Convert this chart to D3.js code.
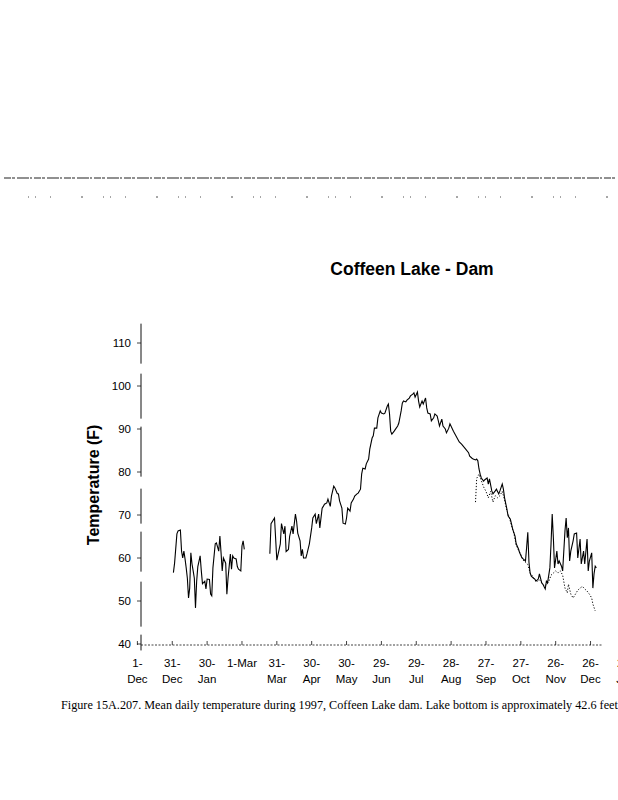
<!DOCTYPE html>
<html>
<head>
<meta charset="utf-8">
<script src="https://cdn.jsdelivr.net/npm/d3@7"></script>
<style>
  body { margin: 0; background: #fff; }
  svg { display: block; }
</style>
</head>
<body>
<div class="chart"></div>
<script>
// surface temperature, day of 1997 -> deg F
var surfaceDays = [
  1, 2, 4, 5, 7, 8, 9, 10, 11, 12, 13, 14, 15, 16, 17, 18, 19, 20, 21, 22, 24, 25, 26, 28, 29, 30,
  32, 33, 34, 35, 37, 38, 40, 41, 42, 43, 44, 46, 47, 48, 50, 51, 52, 53, 55, 56, 57, 59, 60, 61, 62,
  84, 85, 88, 90, 93, 94, 96, 97, 98, 100, 101, 103, 104, 106, 107, 108, 110, 111, 112, 113, 115, 116,
  118, 120, 121, 123, 124, 126, 127, 129, 130, 131, 133, 134, 136, 137, 139, 140, 142, 143, 144, 146,
  147, 149, 150, 151, 153, 154, 156, 157, 159, 160, 162, 163, 164, 166, 167, 169, 170, 172, 173, 174,
  176, 177, 179, 180, 182, 183, 185, 186, 187, 188, 189, 191, 192, 194, 195, 197, 198, 199, 201, 202,
  204, 205, 207, 208, 209, 211, 212, 213, 215, 216, 218, 219, 220, 222, 223, 225, 226, 228, 229, 230,
  232, 233, 235, 236, 238, 239, 242, 244, 247, 249, 252, 255, 256, 258, 259, 261, 262, 263, 264, 265,
  266, 268, 269, 271, 272, 273, 275, 276, 278, 279, 281, 282, 284, 285, 286, 288, 289, 291, 292, 293,
  295, 296, 298, 299, 301, 302, 304, 305, 306, 307, 308, 309, 311, 312, 313, 315, 316, 318, 319, 321,
  322, 323, 325, 326, 327, 328, 329, 331, 332, 333, 335, 336, 338, 339, 340, 341, 342, 343, 345, 346,
  348, 349, 351, 352, 354, 355, 357, 358, 359, 361, 362, 363, 364, 365
];
var surfaceTemps = [
  56.6, 58.8, 65.6, 66.3, 66.5, 61.6, 60, 61.6, 59.8, 57.7, 55.3, 50.7, 53, 61.2, 58.6, 57, 55.3, 48.4, 54.6, 58, 60.5, 57, 54, 54.6, 52.8, 55.1,
  55, 51.6, 51.2, 57.7, 63.3, 63.5, 61.6, 65.1, 61.2, 57, 60, 58.8, 51.6, 55.3, 60.9, 57.4, 60.5, 60, 59.8, 58, 57.4, 57, 62.8, 64, 62,
  61, 68, 69.3, 59.5, 63.3, 68, 65.6, 67.4, 61.5, 62, 65, 67.4, 65.6, 70.2, 68.6, 65.8, 64, 60.5, 62, 60, 60, 61,
  63.3, 67, 69.3, 70.2, 68, 70.2, 67, 71.6, 72, 72.5, 72.8, 73.7, 72, 74.4, 76.7, 76.3, 75, 74.9, 73.3, 71.6,
  68.1, 67.9, 69.3, 71.6, 70.9, 72.8, 73.7, 74.4, 74.9, 75.1, 76, 79.5, 80.9, 80.7, 81.9, 83, 85.3, 87.9, 88.4, 90.2,
  90.2, 92.6, 94.2, 93.7, 93.5, 93.7, 95.3, 95.8, 93.5, 89.5, 88.8, 89.5, 89.9, 90.7, 91.4, 94.2, 96, 96.5, 96.3, 96.7,
  97.2, 97.7, 98.1, 98.4, 97.4, 98.6, 96.5, 95.1, 96.5, 95.8, 97.2, 94.9, 93.7, 93.5, 91.9, 92.6, 93.5, 93, 91.9, 90.7,
  92.3, 90.7, 90, 89.1, 90.2, 91.2, 89.5, 88.5, 87, 86.5, 85.5, 84.5, 83.7, 83.2, 83, 82.8, 83, 82.6, 80.7, 79.5,
  78.6, 77.9, 78.2, 78.6, 77.2, 78.4, 75.6, 74.9, 75.6, 76, 74.9, 75.6, 77.2, 76, 74, 71.4, 69.8, 69, 67.9, 66.7,
  65.1, 63.3, 62.1, 61.2, 60, 59.8, 59.3, 62.5, 66, 59, 56.5, 55.8, 55.3, 55.1, 54.6, 55.1, 56.3, 54.2, 53.9, 52.8,
  54.6, 54.2, 57.7, 63.3, 70.2, 64.7, 57.7, 61.6, 58.6, 59.3, 58.1, 57, 66.3, 69.3, 64.7, 67, 59.3, 61.6, 64, 65.6,
  65.8, 60, 64.4, 58.6, 61.6, 58.6, 64.4, 57, 59.3, 61.2, 53, 56.3, 58.1, 57.7
];

// bottom temperature (dotted), fall only
var bottomDays = [
  261, 262, 264, 266, 268, 270, 272, 274, 276, 278, 280, 282, 284, 286, 288, 290, 292, 294, 296, 298,
  300, 302, 304, 306, 308, 310, 312, 314, 316, 318, 320, 322, 324, 326, 328, 330, 332, 334, 336, 338,
  340, 341, 343, 345, 347, 349, 351, 353, 355, 357, 359, 361, 362, 364
];
var bottomTemps = [
  73, 78.5, 79.5, 78, 76.5, 75.5, 74, 75.5, 73, 74.5, 74, 74.5, 75.5, 73.5, 71, 69.5, 67.5, 65.8, 63, 61.8,
  60.8, 59.5, 59, 58.5, 56.5, 55.8, 55, 54.5, 55, 54.2, 53.5, 53.8, 54.5, 56, 56.5, 57, 56.5, 57, 56, 53,
  51.9, 53.9, 51.6, 50.7, 51.6, 52.5, 53, 53.4, 52.8, 52.3, 51.6, 50.7, 49.3, 47.7
];

var yTicks = [40, 50, 60, 70, 80, 90, 100, 110];
var xTickTop = ["1-", "31-", "30-", "1-Mar", "31-", "30-", "30-", "29-", "29-", "28-", "27-", "27-", "26-", "26-", "25-"];
var xTickBottom = ["Dec", "Dec", "Jan", "", "Mar", "Apr", "May", "Jun", "Jul", "Aug", "Sep", "Oct", "Nov", "Dec", "Jan"];

var width = 618;
var height = 800;

var svg = d3
  .select(".chart")
  .append("svg")
  .attr("width", width)
  .attr("height", height);

var x = d3
  .scaleUtc()
  .domain([Date.UTC(1996, 11, 1), Date.UTC(1998, 0, 25)])
  .range([137.4, 625.4]);

var y = d3.scaleLinear().domain([40, 110]).range([644, 343]);

function dayDate(doy) {
  return Date.UTC(1997, 0, doy);
}

// scan noise at the top of the page
var noise = svg.append("g").attr("stroke", "#222").attr("fill", "none");
noise
  .append("line")
  .attr("x1", 4).attr("x2", 616).attr("y1", 178).attr("y2", 178)
  .attr("stroke-width", 1.2)
  .attr("stroke-dasharray", "7,1,3,2,12,1,2,2");
noise
  .append("line")
  .attr("x1", 28).attr("x2", 616).attr("y1", 197).attr("y2", 197)
  .attr("stroke-width", 0.8)
  .attr("stroke-dasharray", "1,6,1,14,1,30,2,20");

// title
svg
  .append("text")
  .attr("x", 412)
  .attr("y", 275)
  .attr("text-anchor", "middle")
  .style("font-family", "Liberation Sans, Arial, sans-serif")
  .style("font-weight", "bold")
  .style("font-size", "17.5px")
  .text("Coffeen Lake - Dam");

// y axis title
svg
  .append("text")
  .attr("transform", "translate(99," + y(77) + ") rotate(-90)")
  .attr("text-anchor", "middle")
  .style("font-family", "Liberation Sans, Arial, sans-serif")
  .style("font-weight", "bold")
  .style("font-size", "16px")
  .text("Temperature (F)");

// axes
var axes = svg.append("g").attr("stroke", "#111").attr("fill", "none");
axes
  .append("line")
  .attr("x1", 141).attr("x2", 141)
  .attr("y1", y(114.5)).attr("y2", y(38.5))
  .attr("stroke-width", 1)
  .attr("stroke-dasharray", "40,10,45,8,50,12,35,8");
axes
  .append("line")
  .attr("x1", 141).attr("x2", x(Date.UTC(1998, 0, 5)))
  .attr("y1", y(40) + 1).attr("y2", y(40) + 1)
  .attr("stroke-width", 0.8)
  .attr("stroke-dasharray", "2,1.5");

axes
  .selectAll(".ytick")
  .data(yTicks)
  .enter()
  .append("line")
  .attr("x1", 137).attr("x2", 141)
  .attr("y1", function (d) { return y(d); })
  .attr("y2", function (d) { return y(d); })
  .attr("stroke-width", 0.8);

var labelFont = "Liberation Sans, Arial, sans-serif";

svg
  .append("g")
  .selectAll("text")
  .data(yTicks)
  .enter()
  .append("text")
  .attr("x", 131)
  .attr("y", function (d) { return y(d) + 4; })
  .attr("text-anchor", "end")
  .style("font-family", labelFont)
  .style("font-size", "11.5px")
  .text(function (d) { return d; });

var tickDates = xTickTop.map(function (t, i) {
  return d3.utcDay.offset(new Date(Date.UTC(1996, 11, 1)), i * 30);
});

axes
  .selectAll(".xtick")
  .data(tickDates)
  .enter()
  .append("line")
  .attr("x1", function (d) { return x(d); })
  .attr("x2", function (d) { return x(d); })
  .attr("y1", y(40) - 3)
  .attr("y2", y(40) + 1)
  .attr("stroke-width", 0.8);

var xl = svg.append("g");
xl.selectAll(".top")
  .data(tickDates)
  .enter()
  .append("text")
  .attr("x", function (d) { return x(d); })
  .attr("y", 667)
  .attr("text-anchor", "middle")
  .style("font-family", labelFont)
  .style("font-size", "11.5px")
  .text(function (d, i) { return xTickTop[i]; });
xl.selectAll(".bot")
  .data(tickDates)
  .enter()
  .append("text")
  .attr("x", function (d) { return x(d); })
  .attr("y", 683)
  .attr("text-anchor", "middle")
  .style("font-family", labelFont)
  .style("font-size", "11.5px")
  .text(function (d, i) { return xTickBottom[i]; });

// lines, broken where readings are missing for a long stretch
function segments(days, temps) {
  var segs = [];
  var cur = [];
  days.forEach(function (d, i) {
    if (cur.length && d - days[i - 1] > 10) {
      segs.push(cur);
      cur = [];
    }
    cur.push({ date: dayDate(d), t: temps[i] });
  });
  if (cur.length) segs.push(cur);
  return segs;
}

var line = d3
  .line()
  .x(function (d) { return x(d.date); })
  .y(function (d) { return y(d.t); });

svg
  .append("g")
  .selectAll("path")
  .data(segments(bottomDays, bottomTemps))
  .enter()
  .append("path")
  .attr("d", line)
  .attr("fill", "none")
  .attr("stroke", "#000")
  .attr("stroke-width", 1)
  .attr("stroke-dasharray", "1.2,1.8");

svg
  .append("g")
  .selectAll("path")
  .data(segments(surfaceDays, surfaceTemps))
  .enter()
  .append("path")
  .attr("d", line)
  .attr("fill", "none")
  .attr("stroke", "#000")
  .attr("stroke-width", 1.1);

// caption
svg
  .append("text")
  .attr("x", 61)
  .attr("y", 709)
  .style("font-family", "Liberation Serif, Times New Roman, serif")
  .style("font-size", "12.2px")
  .text("Figure 15A.207. Mean daily temperature during 1997, Coffeen Lake dam. Lake bottom is approximately 42.6 feet");
</script>
</body>
</html>
